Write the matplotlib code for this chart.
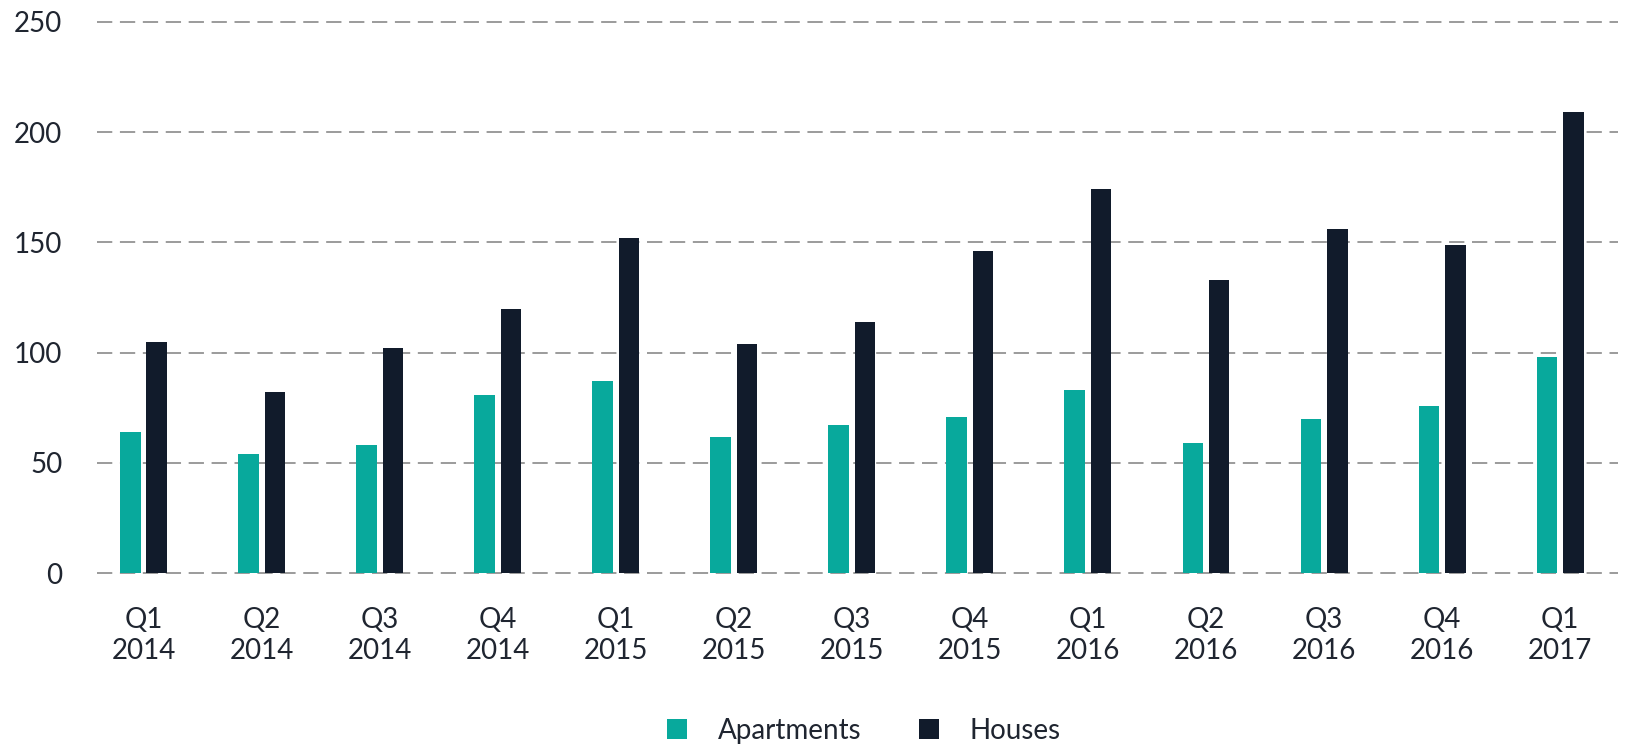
import matplotlib
matplotlib.use("Agg")
import matplotlib.pyplot as plt
import numpy as np
from matplotlib.patches import Patch

categories = ["Q1\n2014", "Q2\n2014", "Q3\n2014", "Q4\n2014",
              "Q1\n2015", "Q2\n2015", "Q3\n2015", "Q4\n2015",
              "Q1\n2016", "Q2\n2016", "Q3\n2016", "Q4\n2016",
              "Q1\n2017"]
apartments = [64, 54, 58, 81, 87, 62, 67, 71, 83, 59, 70, 76, 98]
houses = [105, 82, 102, 120, 152, 104, 114, 146, 174, 133, 156, 149, 209]
yticks = [0, 50, 100, 150, 200, 250]

teal = "#08a99c"
navy = "#111b2b"
text_color = "#1f2530"

plt.rcParams['font.family'] = ['Lato', 'DejaVu Sans']

W, H = 1625, 746
fig = plt.figure(figsize=(W / 100, H / 100), dpi=100)
left, right = 97 / W, 1618 / W
bottom, top = (H - 573.3) / H, (H - 21.7) / H
ax = fig.add_axes([left, bottom, right - left, top - bottom])

x = np.arange(len(categories))
bw = 0.174
off = 0.112
ax.bar(x - off, apartments, width=bw, color=teal, zorder=3)
ax.bar(x + off, houses, width=bw, color=navy, zorder=3)

ax.set_xlim(-0.394, 12.49)
ax.set_ylim(0, 250)
ax.set_yticks(yticks)
ax.set_xticks(x)
ax.set_xticklabels(categories, linespacing=1.25)
ax.yaxis.grid(True, linestyle=(0, (10, 5)), color="#808080", linewidth=1.1, zorder=0)
for gl in ax.get_ygridlines():
    gl.set_clip_on(False)
ax.set_axisbelow(True)
for s in ax.spines.values():
    s.set_visible(False)
ax.tick_params(axis='y', length=0, pad=25, labelsize=20, labelcolor=text_color)
ax.tick_params(axis='x', length=0, pad=24, labelsize=20, labelcolor=text_color)

handles = [Patch(facecolor=teal, edgecolor='none', label="Apartments"),
           Patch(facecolor=navy, edgecolor='none', label="Houses")]
fig.legend(handles=handles, loc='center', bbox_to_anchor=(864 / W, 15 / H),
           ncol=2, frameon=False, fontsize=20, handlelength=0.72, handleheight=0.72,
           handletextpad=1.1, columnspacing=2.1, labelcolor=text_color)

fig.savefig("out.png", dpi=100, facecolor="white")
